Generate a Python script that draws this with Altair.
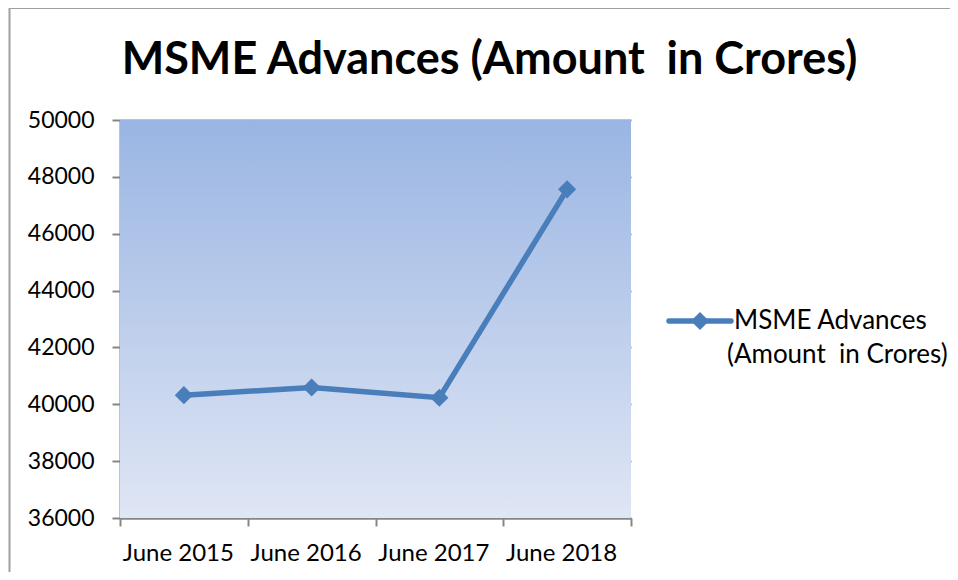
import altair as alt
import pandas as pd

periods = ["June 2015", "June 2016", "June 2017", "June 2018"]
values = [40320, 40590, 40230, 47560]
series_name = "MSME Advances (Amount \u00a0in Crores)"
legend_lines = ["MSME Advances", "(Amount \u00a0in Crores)"]
y_ticks = [36000, 38000, 40000, 42000, 44000, 46000, 48000, 50000]

df = pd.DataFrame({"period": periods, "value": values, "series": [series_name] * len(periods)})

FONT = "Lato"
BLUE = "#4A7EBB"
GRID = "#868686"

W, H = 511, 398

x_enc = alt.X(
    "period:N",
    sort=periods,
    bandPosition=0.5,
    scale=alt.Scale(type="band", paddingInner=0, paddingOuter=0),
    axis=alt.Axis(
        title=None, labelAngle=0, tickBand="extent", grid=False,
        domainColor=GRID, domainWidth=2, tickColor=GRID, tickWidth=2, tickSize=8,
        labelFont=FONT, labelFontSize=24, labelColor="#000000", labelPadding=15,
        labelOffset=-6,
    ),
)
y_enc = alt.Y(
    "value:Q",
    scale=alt.Scale(domain=[36000, 50000], nice=False, zero=False),
    axis=alt.Axis(
        title=None, values=y_ticks, format="d", grid=True, gridColor=GRID, gridWidth=2,
        domainColor=GRID, domainWidth=2, tickColor=GRID, tickWidth=2, tickSize=8,
        labelFont=FONT, labelFontSize=23, labelColor="#000000", labelPadding=18,
    ),
)

base = alt.Chart(df)
line = base.mark_line(color=BLUE, strokeWidth=5.5).encode(x=x_enc, y=y_enc)
pts = base.mark_point(shape="diamond", filled=True, size=330, color=BLUE, opacity=1).encode(x=x_enc, y=y_enc)

one = alt.Chart(pd.DataFrame({"a": [0]}))
# plot-area gradient background
bg = one.mark_rect(
    color=alt.LinearGradient(
        gradient="linear", x1=0, x2=0, y1=0, y2=1,
        stops=[alt.GradientStop(color="#9AB5E3", offset=0), alt.GradientStop(color="#DFE6F4", offset=1)],
    )
).encode(x=alt.value(0), x2=alt.value(W), y=alt.value(0), y2=alt.value(H))
# chart frame (left and top border)
frame_left = one.mark_rule(color="#A0A0A0", strokeWidth=2).encode(
    x=alt.value(-110.5), y=alt.value(-112), y2=alt.value(470))
frame_top = one.mark_rule(color="#A0A0A0", strokeWidth=2).encode(
    x=alt.value(-110.5), x2=alt.value(840), y=alt.value(-112))

# legend
leg_rule = one.mark_rule(color=BLUE, strokeWidth=5.5, strokeCap="round").encode(
    x=alt.value(549), x2=alt.value(611), y=alt.value(201))
leg_pt = one.mark_point(shape="diamond", filled=True, size=330, color=BLUE, opacity=1).encode(
    x=alt.value(580), y=alt.value(201))
leg_t1 = one.mark_text(text=legend_lines[0], font=FONT, fontSize=26, align="left", baseline="middle", color="#000000").encode(
    x=alt.value(614), y=alt.value(201))
leg_t2 = one.mark_text(text=legend_lines[1], font=FONT, fontSize=26, align="left", baseline="middle", color="#000000").encode(
    x=alt.value(607), y=alt.value(235))

chart = alt.layer(bg, frame_left, frame_top, line, pts, leg_rule, leg_pt, leg_t1, leg_t2).properties(
    width=W,
    height=H,
    autosize=alt.AutoSizeParams(type="none"),
    padding={"left": 112, "top": 112, "right": 319, "bottom": 54},
    title=alt.TitleParams(
        text=series_name, font=FONT, fontSize=45, fontWeight="bold", color="#000000",
        anchor="middle", frame="group", dx=114, offset=-112, baseline="alphabetic",
    ),
).configure_view(stroke=None)

chart.save("out.html", embed_options={"renderer": "svg", "actions": False})
